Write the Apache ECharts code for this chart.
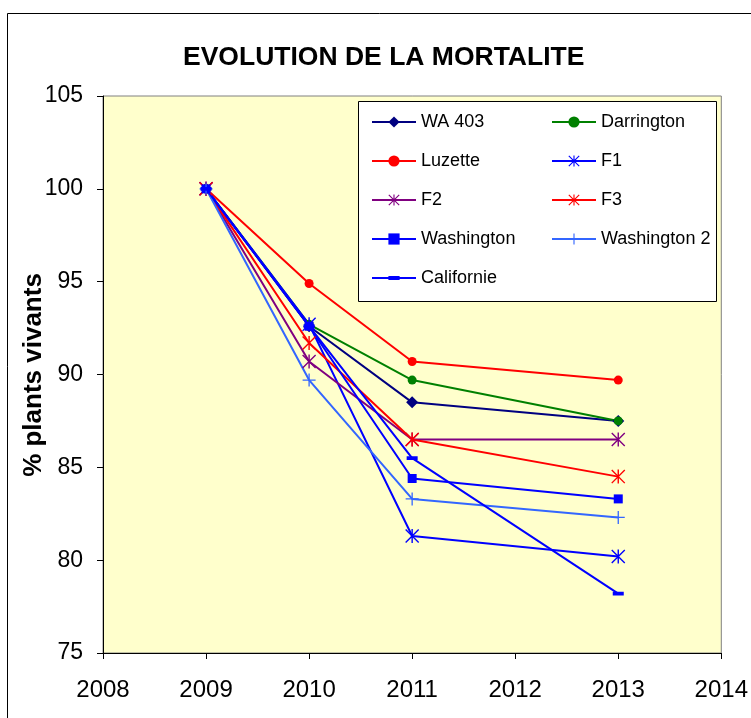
<!DOCTYPE html>
<html>
<head>
<meta charset="utf-8">
<script src="https://cdn.jsdelivr.net/npm/echarts@6/dist/echarts.min.js"></script>
<style>
  html, body { margin: 0; padding: 0; background: #fff; }
  #chart { width: 751px; height: 718px; }
</style>
</head>
<body>
<div id="chart"></div>
<script>
// years on the x axis
var years = [2009, 2010, 2011, 2013];

// % plants vivants, one array per provenance
var wa403 = [100, 92.6, 88.5, 87.5];
var darrington = [100, 92.7, 89.7, 87.5];
var luzette = [100, 94.9, 90.7, 89.7];
var f1 = [100, 92.7, 81.3, 80.2];
var f2 = [100, 90.7, 86.5, 86.5];
var f3 = [100, 91.7, 86.5, 84.5];
var washington = [100, 92.6, 84.4, 83.3];
var washington2 = [100, 89.7, 83.3, 82.3];
var californie = [100, 92.6, 85.5, 78.2];

var FONT = 'Liberation Sans, Arial, sans-serif';

// marker shapes (excel-like)
var STAR = 'path://M9 0L11 0L11 20L9 20Z M0 1.4L1.4 0L20 18.6L18.6 20Z M18.6 0L20 1.4L1.4 20L0 18.6Z';
var PLUS = 'path://M9 0L11 0L11 20L9 20Z M0 9L20 9L20 11L0 11Z';
// short dash, with tiny corner specks so the box stays square
var DASH = 'path://M0 6.5L20 6.5L20 13.5L0 13.5Z M0 0L0.01 0L0 0.01Z M20 20L19.99 20L20 19.99Z';

function pairs(vals) {
  return years.map(function (y, i) { return [y, vals[i]]; });
}

function makeSeries(name, vals, color, symbol, size) {
  return {
    name: name,
    type: 'line',
    data: pairs(vals),
    symbol: symbol,
    symbolSize: size,
    showAllSymbol: true,
    color: color,
    lineStyle: { color: color, width: 2 },
    itemStyle: { color: color },
    emphasis: { disabled: true }
  };
}

var chart = echarts.init(document.getElementById('chart'));

var legendText = { fontFamily: FONT, fontSize: 18, color: '#000' };

var option = {
  animation: false,
  backgroundColor: '#fff',
  textStyle: { fontFamily: FONT, color: '#000' },
  title: {
    text: 'EVOLUTION DE LA MORTALITE',
    left: 178,
    top: 39,
    textStyle: { fontFamily: FONT, fontSize: 26.5, fontWeight: 'bold', color: '#000' }
  },
  graphic: [
    {
      type: 'rect',
      shape: { x: 7.5, y: 13.5, width: 780, height: 740 },
      style: { fill: 'none', stroke: '#000', lineWidth: 1 },
      z: 0
    },
    {
      type: 'rect',
      shape: { x: 358.5, y: 101.5, width: 358, height: 200 },
      style: { fill: '#fff', stroke: '#000', lineWidth: 1 },
      z: 3
    },
    {
      // y axis title
      type: 'text',
      x: 34,
      y: 375,
      rotation: Math.PI / 2,
      style: {
        text: '% plants vivants',
        fill: '#000',
        font: 'bold 26px ' + FONT,
        textAlign: 'center',
        textVerticalAlign: 'middle'
      },
      z: 5
    }
  ],
  legend: [
    {
      orient: 'vertical',
      left: 371,
      top: 113,
      padding: 0,
      itemWidth: 44,
      itemHeight: 14,
      itemGap: 21,
      selectedMode: false,
      textStyle: legendText,
      data: ['WA 403', 'Luzette', 'F2', 'Washington', 'Californie']
    },
    {
      orient: 'vertical',
      left: 551,
      top: 113,
      padding: 0,
      itemWidth: 44,
      itemHeight: 14,
      itemGap: 21,
      selectedMode: false,
      textStyle: legendText,
      data: ['Darrington', 'F1', 'F3', 'Washington 2']
    }
  ],
  grid: {
    left: 103,
    right: 28,
    top: 96,
    bottom: 65,
    show: true,
    backgroundColor: '#FFFFCC',
    borderColor: '#808080',
    borderWidth: 1
  },
  xAxis: {
    type: 'value',
    min: 2008,
    max: 2014,
    interval: 1,
    axisLine: { show: true, lineStyle: { color: '#000', width: 1 } },
    axisTick: { show: true, inside: false, length: 6, lineStyle: { color: '#000' } },
    splitLine: { show: false },
    axisLabel: {
      margin: 25,
      fontSize: 24,
      color: '#000',
      fontFamily: FONT,
      formatter: function (v) { return String(v); }
    }
  },
  yAxis: {
    type: 'value',
    min: 75,
    max: 105,
    interval: 5,
    axisLine: { show: true, lineStyle: { color: '#000', width: 1 } },
    axisTick: { show: true, inside: false, length: 6, lineStyle: { color: '#000' } },
    splitLine: { show: false },
    axisLabel: { margin: 20, fontSize: 23, color: '#000', fontFamily: FONT }
  },
  series: [
    makeSeries('WA 403', wa403, '#000080', 'diamond', 12),
    makeSeries('Darrington', darrington, '#008000', 'circle', 9),
    makeSeries('Luzette', luzette, '#FF0000', 'circle', 9),
    makeSeries('F1', f1, '#0000FF', STAR, 14),
    makeSeries('F2', f2, '#800080', STAR, 14),
    makeSeries('F3', f3, '#FF0000', STAR, 14),
    makeSeries('Washington', washington, '#0000FF', 'rect', 9),
    makeSeries('Washington 2', washington2, '#3366FF', PLUS, 13),
    makeSeries('Californie', californie, '#0000FF', DASH, 11)
  ]
};

chart.setOption(option);
</script>
</body>
</html>
